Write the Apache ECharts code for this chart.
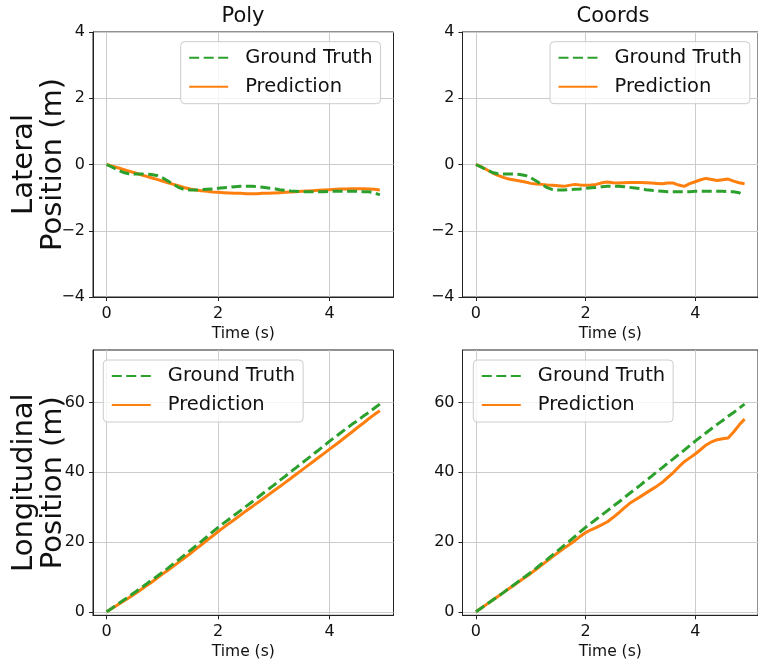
<!DOCTYPE html>
<html>
<head>
<meta charset="utf-8">
<script src="https://cdn.jsdelivr.net/npm/echarts@6/dist/echarts.min.js"></script>
<style>
  html, body { margin: 0; padding: 0; background: #ffffff; }
  #chart { width: 758px; height: 663px; }
</style>
</head>
<body>
<div id="chart"></div>
<script>
// Sample times (s)
const timeSec = [0, 0.1, 0.2, 0.3, 0.4, 0.5, 0.6, 0.7, 0.8, 0.9,
  1.0, 1.1, 1.2, 1.3, 1.4, 1.5, 1.6, 1.7, 1.8, 1.9,
  2.0, 2.1, 2.2, 2.3, 2.4, 2.5, 2.6, 2.7, 2.8, 2.9,
  3.0, 3.1, 3.2, 3.3, 3.4, 3.5, 3.6, 3.7, 3.8, 3.9,
  4.0, 4.1, 4.2, 4.3, 4.4, 4.5, 4.6, 4.7, 4.8, 4.9];

// Lateral position (m)
const lateralTruth = [0, -0.08, -0.17, -0.24, -0.28, -0.29, -0.29, -0.29, -0.30, -0.33,
  -0.40, -0.50, -0.60, -0.70, -0.76, -0.77, -0.77, -0.76, -0.75, -0.74,
  -0.72, -0.70, -0.69, -0.67, -0.66, -0.66, -0.66, -0.67, -0.69, -0.71,
  -0.73, -0.76, -0.78, -0.80, -0.81, -0.82, -0.82, -0.82, -0.82, -0.82,
  -0.81, -0.81, -0.81, -0.81, -0.81, -0.81, -0.82, -0.82, -0.85, -0.92];
const lateralPoly = [0, -0.05, -0.10, -0.15, -0.20, -0.25, -0.30, -0.35, -0.40, -0.45,
  -0.50, -0.55, -0.60, -0.65, -0.70, -0.74, -0.77, -0.79, -0.81, -0.83,
  -0.84, -0.85, -0.86, -0.87, -0.87, -0.88, -0.88, -0.88, -0.87, -0.87,
  -0.86, -0.85, -0.84, -0.83, -0.82, -0.81, -0.80, -0.79, -0.78, -0.77,
  -0.76, -0.75, -0.74, -0.74, -0.73, -0.73, -0.73, -0.74, -0.75, -0.77];
const lateralCoords = [0, -0.07, -0.16, -0.25, -0.33, -0.39, -0.44, -0.47, -0.50, -0.53,
  -0.57, -0.59, -0.60, -0.62, -0.63, -0.64, -0.66, -0.63, -0.60, -0.62,
  -0.63, -0.62, -0.60, -0.55, -0.53, -0.55, -0.56, -0.55, -0.54, -0.54,
  -0.54, -0.55, -0.56, -0.57, -0.58, -0.56, -0.56, -0.62, -0.66, -0.58,
  -0.52, -0.46, -0.42, -0.45, -0.48, -0.46, -0.44, -0.50, -0.55, -0.58];

// Longitudinal position (m)
const longitudinalTruth = [0, 1.1, 2.2, 3.3, 4.4, 5.5, 6.7, 7.8, 9.0, 10.1,
  11.3, 12.5, 13.8, 15.0, 16.3, 17.6, 18.9, 20.2, 21.5, 22.9,
  24.2, 25.4, 26.6, 27.8, 29.0, 30.2, 31.4, 32.6, 33.9, 35.1,
  36.3, 37.6, 38.8, 40.1, 41.3, 42.6, 43.8, 45.1, 46.3, 47.6,
  48.9, 50.1, 51.3, 52.5, 53.7, 54.8, 56.0, 57.1, 58.3, 59.5];
const longitudinalPoly = [0, 1.0, 2.0, 3.0, 4.0, 5.1, 6.2, 7.3, 8.4, 9.6,
  10.8, 11.9, 13.1, 14.3, 15.5, 16.7, 18.0, 19.2, 20.5, 21.7,
  23.0, 24.2, 25.4, 26.5, 27.7, 28.9, 30.0, 31.2, 32.3, 33.5,
  34.7, 35.8, 37.0, 38.2, 39.4, 40.6, 41.8, 43.0, 44.2, 45.4,
  46.6, 47.8, 49.0, 50.3, 51.5, 52.8, 54.0, 55.3, 56.5, 57.6];
const longitudinalCoords = [0, 1.1, 2.2, 3.3, 4.4, 5.5, 6.6, 7.7, 8.8, 9.9,
  11.0, 12.2, 13.4, 14.6, 15.8, 17.0, 18.1, 19.2, 20.3, 21.6,
  22.7, 23.5, 24.2, 25.0, 25.8, 27.0, 28.3, 29.7, 31.0, 32.0,
  33.0, 34.0, 35.0, 36.0, 37.1, 38.5, 39.9, 41.5, 43.0, 44.1,
  45.2, 46.5, 47.8, 48.7, 49.3, 49.6, 49.8, 51.5, 53.5, 55.2];

// Axis ticks
const timeTicks = [0, 2, 4];
const lateralTicks = [-4, -2, 0, 2, 4];
const longitudinalTicks = [0, 20, 40, 60];

const panelTitles = ['Poly', 'Coords'];
const seriesNames = ['Ground Truth', 'Prediction'];
const lateralLabel = 'Lateral\nPosition (m)';
const longitudinalLabel = 'Longitudinal\nPosition (m)';
const timeLabel = 'Time (s)';

const FONT = 'DejaVu Sans';
const INK = '#111111';
const GREEN = '#2ca02c';
const ORANGE = '#ff7f0e';

const fmt = v => (v < 0 ? '\u2212' + (-v) : String(v));

const grids = [
  { left: 93, top: 32, width: 300.5, height: 265 },
  { left: 462.5, top: 32, width: 301, height: 265 },
  { left: 93, top: 350, width: 300.5, height: 265.3 },
  { left: 462.5, top: 350, width: 301, height: 265.3 }
].map(g => Object.assign({ show: true, borderColor: '#222222', borderWidth: 1, backgroundColor: 'transparent' }, g));

function xAxisFor(i) {
  return {
    type: 'value', gridIndex: i, min: -0.245, max: 5.145,
    name: timeLabel, nameLocation: 'middle', nameGap: 29,
    nameTextStyle: { fontFamily: FONT, fontSize: 15.5, color: INK },
    axisLine: { show: true, onZero: false, lineStyle: { color: '#222222', width: 1 } },
    axisTick: { show: true, length: 4, customValues: timeTicks, lineStyle: { color: '#222222' } },
    axisLabel: { customValues: timeTicks, margin: 9, fontFamily: FONT, fontSize: 16, color: INK, formatter: fmt },
    splitLine: { show: true, lineStyle: { color: '#cccccc', width: 1 } }
  };
}

function yAxisFor(i, lateral) {
  const ax = {
    type: 'value', gridIndex: i,
    min: lateral ? -4 : -1, max: lateral ? 4 : 75,
    axisLine: { show: true, onZero: false, lineStyle: { color: '#222222', width: 1 } },
    axisTick: { show: true, length: 4, customValues: lateral ? lateralTicks : longitudinalTicks, lineStyle: { color: '#222222' } },
    axisLabel: { customValues: lateral ? lateralTicks : longitudinalTicks, margin: 8, fontFamily: FONT, fontSize: 16, color: INK, formatter: fmt },
    splitLine: { show: true, lineStyle: { color: '#cccccc', width: 1 } }
  };
  if (i % 2 === 0) {
    ax.name = lateral ? lateralLabel : longitudinalLabel;
    ax.nameLocation = 'middle';
    ax.nameRotate = 90;
    ax.nameGap = 25;
    ax.nameMoveOverlap = false;
    ax.nameTextStyle = { fontFamily: FONT, fontSize: 29, lineHeight: 29, color: INK, align: 'center' };
  }
  return ax;
}

function lineSeries(name, i, values, truth) {
  return {
    type: 'line', name: name, xAxisIndex: i, yAxisIndex: i,
    data: timeSec.map((t, k) => [t, values[k]]),
    symbol: 'none', showSymbol: false, smooth: false,
    z: truth ? 4 : 3,
    lineStyle: truth
      ? { color: GREEN, width: 3, type: [10, 4.5] }
      : { color: ORANGE, width: 3 },
    itemStyle: { color: truth ? GREEN : ORANGE },
    emphasis: { disabled: true }
  };
}

const legendPos = [
  { left: 180.7, top: 41.7 },
  { left: 550, top: 41.7 },
  { left: 103.3, top: 360 },
  { left: 473.3, top: 360 }
];

const option = {
  animation: false,
  backgroundColor: '#ffffff',
  title: panelTitles.map((t, i) => ({
    text: t, left: i === 0 ? 243 : 613, top: 6, padding: 0, textAlign: 'center',
    textStyle: { fontFamily: FONT, fontSize: 21, fontWeight: 'normal', color: INK }
  })),
  grid: grids,
  xAxis: [0, 1, 2, 3].map(xAxisFor),
  yAxis: [0, 1, 2, 3].map(i => yAxisFor(i, i < 2)),
  legend: legendPos.map(p => ({
    left: p.left, top: p.top, orient: 'vertical',
    data: seriesNames,
    itemWidth: 39, itemHeight: 14, itemGap: 9,
    padding: [6, 8, 7, 7.5],
    backgroundColor: 'rgba(255,255,255,0.8)',
    borderColor: '#cccccc', borderWidth: 1, borderRadius: 4,
    selectedMode: false,
    itemStyle: { opacity: 0 },
    textStyle: { fontFamily: FONT, fontSize: 19.5, lineHeight: 20, color: INK, padding: [0, 0, 0, 12] }
  })),
  series: [
    lineSeries(seriesNames[1], 0, lateralPoly, false),
    lineSeries(seriesNames[0], 0, lateralTruth, true),
    lineSeries(seriesNames[1], 1, lateralCoords, false),
    lineSeries(seriesNames[0], 1, lateralTruth, true),
    lineSeries(seriesNames[1], 2, longitudinalPoly, false),
    lineSeries(seriesNames[0], 2, longitudinalTruth, true),
    lineSeries(seriesNames[1], 3, longitudinalCoords, false),
    lineSeries(seriesNames[0], 3, longitudinalTruth, true)
  ]
};

const chart = echarts.init(document.getElementById('chart'), null, { renderer: 'canvas' });
chart.setOption(option);
</script>
</body>
</html>
